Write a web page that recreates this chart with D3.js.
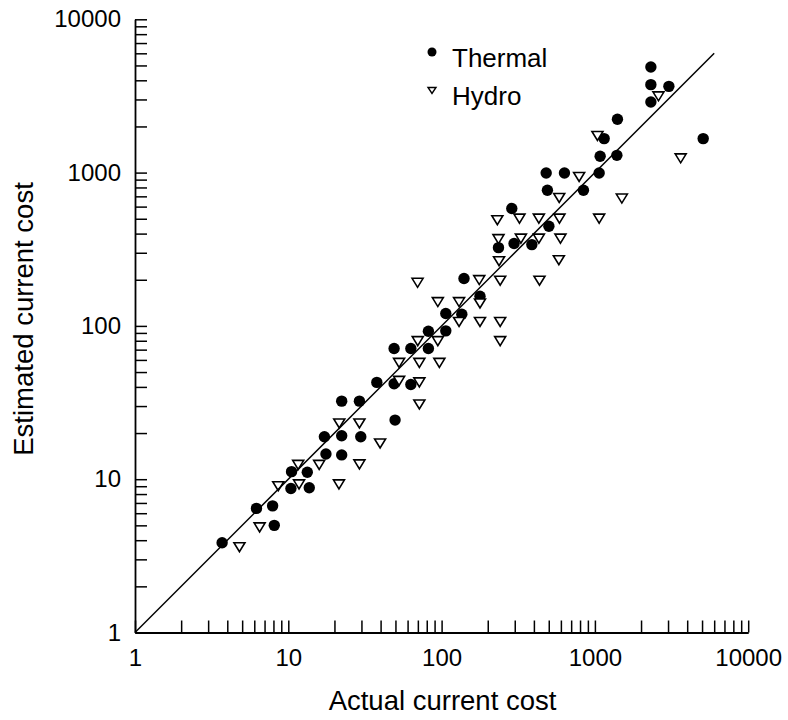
<!DOCTYPE html>
<html>
<head>
<meta charset="utf-8">
<script src="https://cdn.jsdelivr.net/npm/d3@7"></script>
<style>
  body { margin: 0; background: #fff; }
  text { font-family: "Liberation Sans", Arial, Helvetica, sans-serif; fill: #000; }
</style>
</head>
<body>
<script>
// Thermal plants: actual vs estimated current cost
const thermalActual = [3.7, 6.2, 7.9, 8.1, 10.4, 10.5, 13.3, 13.7, 17.6, 22.3,
  17.2, 22.3, 29.7, 22.3, 29.1, 49.7, 37.8, 49, 63, 49,
  63, 82, 82, 106.5, 106.5, 135.5, 140, 178, 235, 297,
  388, 287, 501, 481, 633, 1066, 490, 842, 1082, 1391,
  1149, 1403, 2318, 2318, 2318, 3038, 5086]
const thermalEstimated = [3.85, 6.45, 6.7, 5.0, 8.7, 11.2, 11.1, 8.8, 14.6, 14.4,
  18.9, 19.2, 18.9, 32.3, 32.3, 24.3, 42.8, 41.9, 41.5, 71.2,
  71.2, 71.2, 92.3, 92.8, 120.5, 119, 204, 156, 324, 345,
  339, 583, 447, 994, 994, 994, 767, 767, 1277, 1296,
  1666, 2226, 4880, 3748, 2885, 3653, 1666]

// Hydro plants
const hydroActual = [4.8, 6.5, 8.6, 11.75, 11.6, 15.9, 21.4, 29.1, 39.7, 21.5,
  29.1, 52.8, 71.6, 71.6, 52.8, 71.6, 96.7, 69.9, 94.5, 69.7,
  94.5, 130, 178, 130, 178, 241, 241, 176, 241, 435,
  237, 582, 235, 329, 431, 596, 231, 322, 431, 587,
  1066, 585, 1499, 789, 1039, 2598, 3627]
const hydroEstimated = [3.6, 4.85, 9.0, 9.25, 12.4, 12.4, 9.25, 12.5, 17.1, 23.1,
  23.1, 43.8, 42.8, 30.7, 57.4, 57.4, 57.4, 79.5, 79.5, 191,
  143, 143, 140, 106, 106, 106, 79.5, 199, 197, 197,
  264, 268, 368, 371, 371, 371, 489, 501, 501, 501,
  501, 683, 677, 936, 1732, 3144, 1239]

// line of equality
const lineX = [1, 6000]
const lineY = [1, 6000]

const majorTicks = [1, 10, 100, 1000, 10000]
const legendLabels = ['Thermal', 'Hydro']

const width = 788, height = 720
const margin = {top: 19.3, right: 40, bottom: 87.5, left: 135}

const svg = d3.select('body').append('svg')
  .attr('width', width)
  .attr('height', height)

const x = d3.scaleLog()
  .domain([1, 10000])
  .range([margin.left, 748.2])

const y = d3.scaleLog()
  .domain([1, 10000])
  .range([height - margin.bottom, margin.top])

// every 1..9 x decade tick
const allTicks = []
for (let p = 0; p < 4; p++) {
  for (let m = 1; m < 10; m++) allTicks.push(m * Math.pow(10, p))
}
allTicks.push(10000)

const fmt = d => majorTicks.indexOf(d) !== -1 ? String(d) : ''

const xAxis = svg.append('g')
  .attr('transform', 'translate(0,' + (height - margin.bottom) + ')')
  .call(d3.axisBottom(x).tickValues(allTicks).tickSize(-12).tickSizeOuter(0)
    .tickPadding(16.5).tickFormat(fmt))

const yAxis = svg.append('g')
  .attr('transform', 'translate(' + margin.left + ',0)')
  .call(d3.axisLeft(y).tickValues(allTicks).tickSize(-12).tickSizeOuter(0)
    .tickPadding(14).tickFormat(fmt))

for (const g of [xAxis, yAxis]) {
  g.select('.domain').attr('stroke', '#000').attr('stroke-width', 1.8)
  g.selectAll('.tick line').attr('stroke', '#000').attr('stroke-width', 1.5)
  g.selectAll('.tick text')
    .attr('font-size', 24)
    .attr('font-family', '"Liberation Sans", Arial, Helvetica, sans-serif')
    .attr('fill', '#000')
}

// axis titles
svg.append('text')
  .attr('x', 442.5)
  .attr('y', 710)
  .attr('text-anchor', 'middle')
  .attr('font-size', 27.5)
  .text('Actual current cost')

svg.append('text')
  .attr('transform', 'translate(33,319) rotate(-90)')
  .attr('text-anchor', 'middle')
  .attr('font-size', 27.5)
  .text('Estimated current cost')

// markers
const triPath = (w, h) => `M${-w / 2},${-h / 2}L${w / 2},${-h / 2}L0,${h / 2}Z`

svg.append('g')
  .selectAll('circle')
  .data(thermalActual.map((d, i) => [d, thermalEstimated[i]]))
  .enter().append('circle')
  .attr('cx', d => x(d[0]))
  .attr('cy', d => y(d[1]))
  .attr('r', 5.7)
  .attr('fill', '#000')

svg.append('g')
  .selectAll('path')
  .data(hydroActual.map((d, i) => [d, hydroEstimated[i]]))
  .enter().append('path')
  .attr('transform', d => 'translate(' + x(d[0]) + ',' + y(d[1]) + ')')
  .attr('d', triPath(11, 9))
  .attr('fill', '#fff')
  .attr('stroke', '#000')
  .attr('stroke-width', 1.6)
  .attr('stroke-linejoin', 'miter')

// equality line
svg.append('line')
  .attr('x1', x(lineX[0])).attr('y1', y(lineY[0]))
  .attr('x2', x(lineX[1])).attr('y2', y(lineY[1]))
  .attr('stroke', '#000')
  .attr('stroke-width', 1.5)

// legend
const legend = svg.append('g')
legend.append('circle')
  .attr('cx', 432).attr('cy', 52).attr('r', 4.5)
  .attr('fill', '#000')
legend.append('path')
  .attr('transform', 'translate(432,90.5)')
  .attr('d', triPath(8, 6))
  .attr('fill', '#fff')
  .attr('stroke', '#000')
  .attr('stroke-width', 1.4)
legend.selectAll('text')
  .data(legendLabels)
  .enter().append('text')
  .attr('x', 452)
  .attr('y', (d, i) => i === 0 ? 66.7 : 105)
  .attr('font-size', 26)
  .text(d => d)
</script>
</body>
</html>
